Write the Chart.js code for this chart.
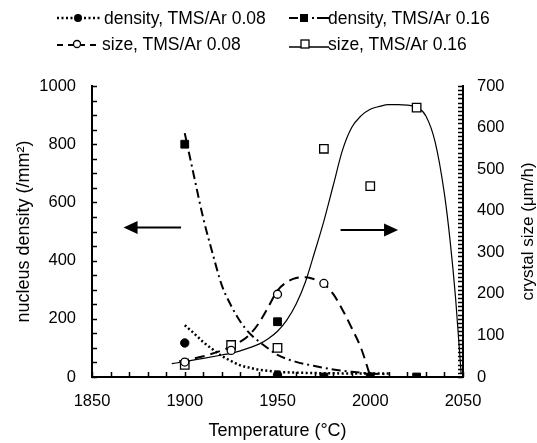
<!DOCTYPE html>
<html>
<head>
<meta charset="utf-8">
<script src="https://cdn.jsdelivr.net/npm/chart.js@4.4.1/dist/chart.umd.min.js"></script>
<style>
  body { margin: 0; background: #fff; }
  #wrap { position: relative; width: 537px; height: 443px; font-family: "Liberation Sans", Arial, sans-serif; }
  .item { position: absolute; height: 20px; font-size: 17.5px; line-height: 20px; color: #000; white-space: nowrap; }
  .item svg { position: absolute; top: 3px; }
  .item span { position: absolute; top: 0; }
</style>
</head>
<body>
<div id="wrap">
  <canvas id="chart" width="537" height="443"></canvas>
  <!-- legend, two columns x two rows -->
  <div class="item" style="left:57px;top:8px">
    <svg width="46" height="14" style="left:0">
      <line x1="0" y1="7" x2="44" y2="7" stroke="#000" stroke-width="2.5" stroke-dasharray="2 2.5"/>
      <circle cx="21" cy="7" r="4" fill="#000"/>
    </svg>
    <span style="left:47px">density, TMS/Ar 0.08</span>
  </div>
  <div class="item" style="left:289px;top:8px">
    <svg width="40" height="14" style="left:0">
      <line x1="0" y1="7" x2="9" y2="7" stroke="#000" stroke-width="2"/>
      <rect x="11" y="3" width="8" height="8" fill="#000"/>
      <line x1="23" y1="7" x2="25" y2="7" stroke="#000" stroke-width="2"/>
      <line x1="28" y1="7" x2="40" y2="7" stroke="#000" stroke-width="2"/>
    </svg>
    <span style="left:39px">density, TMS/Ar 0.16</span>
  </div>
  <div class="item" style="left:57px;top:34px">
    <svg width="42" height="14" style="left:0">
      <line x1="0" y1="8" x2="40" y2="8" stroke="#000" stroke-width="2" stroke-dasharray="6 5"/>
      <circle cx="20" cy="7" r="3.5" fill="#fff" stroke="#000" stroke-width="1.3"/>
    </svg>
    <span style="left:45px">size, TMS/Ar 0.08</span>
  </div>
  <div class="item" style="left:289px;top:34px">
    <svg width="40" height="14" style="left:0">
      <line x1="0" y1="10" x2="40" y2="10" stroke="#000" stroke-width="1.3"/>
      <rect x="12" y="3" width="8" height="8" fill="#fff" stroke="#000" stroke-width="1.3"/>
    </svg>
    <span style="left:39px">size, TMS/Ar 0.16</span>
  </div>
</div>
<script>
// measured points
const density08Temps = [1900, 1950];
const density08Values = [117, 7];
const density16Temps = [1900, 1950, 1975, 2000, 2025];
const density16Values = [800, 190, 0, 0, 0];
const size08Temps = [1900, 1925, 1950, 1975];
const size08Values = [36, 64, 199, 225];
const size16Temps = [1900, 1925, 1950, 1975, 2000, 2025];
const size16Values = [29, 77, 70, 549, 459, 648];

// fitted curves
const density08FitTemps = [1900, 1905, 1910, 1915, 1920, 1925, 1930, 1935, 1940, 1950, 1960, 1975, 2000, 2010];
const density08FitValues = [178, 150, 120, 95, 72, 55, 40, 32, 25, 18, 15, 13, 12, 12];
const density16FitTemps = [1900, 1905, 1910, 1915, 1920, 1925, 1930, 1935, 1940, 1945, 1950, 1960, 1970, 1980, 1990, 2000, 2010];
const density16FitValues = [838, 690, 545, 425, 315, 245, 190, 150, 122, 98, 76, 52, 38, 26, 18, 12, 9];
const size08FitTemps = [1897, 1900, 1910, 1920, 1930, 1935, 1940, 1945, 1950, 1955, 1960, 1965, 1970, 1975, 1980, 1985, 1990, 1995, 2000];
const size08FitValues = [38, 40, 50, 64, 85, 102, 130, 168, 208, 228, 238, 240, 235, 224, 200, 162, 118, 70, 2];
const size16FitTemps = [1893, 1900, 1910, 1920, 1925, 1930, 1940, 1945, 1950, 1955, 1960, 1965, 1970, 1975, 1980, 1985, 1990, 1995, 2000, 2005, 2010, 2015, 2020, 2025, 2030, 2035, 2040, 2043, 2046, 2049];
const size16FitValues = [32, 37, 45, 53, 57, 63, 79, 92, 110, 137, 175, 228, 300, 375, 460, 545, 600, 628, 644, 651, 655, 655, 654, 649, 628, 565, 440, 330, 190, 8];

// axis ticks
const tempTicks = [1850, 1900, 1950, 2000, 2050];
const densityTicks = [0, 200, 400, 600, 800, 1000];
const sizeTicks = [0, 100, 200, 300, 400, 500, 600, 700];
const tempMinorStep = 10;
const densityMinorStep = 50;
const sizeMinorStep = 10;

// the two arrows (left one points at the density axis, right one at the size axis)
const arrowFromTemps = [1898, 1984];
const arrowToTemps = [1867, 2015];
const arrowLevels = [514, 505];

Chart.defaults.font.family = '"Liberation Sans", Arial, sans-serif';
Chart.defaults.color = '#000';

function pts(xs, ys) {
    return xs.map((x, i) => ({ x: x, y: ys[i] }));
}

// plain numbers, no thousands separator
const plainLabel = (value) => String(value);

const fitStyle = {
    showLine: true,
    pointRadius: 0,
    borderColor: '#000',
    backgroundColor: '#000',
    cubicInterpolationMode: 'monotone',
    fill: false
};

const extras = {
    id: 'extras',
    afterDraw(chart) {
        const { ctx, chartArea: a, scales } = chart;
        ctx.save();
        ctx.strokeStyle = '#000';
        ctx.fillStyle = '#000';
        ctx.lineWidth = 1.5;

        // inward tick marks
        ctx.beginPath();
        for (let t = scales.x.min; t <= scales.x.max; t += tempMinorStep) {
            const px = Math.round(scales.x.getPixelForValue(t)) + 0.5;
            ctx.moveTo(px, a.bottom);
            ctx.lineTo(px, a.bottom - 5);
        }
        for (let v = scales.y.min; v <= scales.y.max; v += densityMinorStep) {
            const py = Math.round(scales.y.getPixelForValue(v)) + 0.5;
            ctx.moveTo(a.left, py);
            ctx.lineTo(a.left + 5, py);
        }
        for (let v = scales.y2.min; v <= scales.y2.max; v += sizeMinorStep) {
            const py = Math.round(scales.y2.getPixelForValue(v)) + 0.5;
            ctx.moveTo(a.right, py);
            ctx.lineTo(a.right - 5, py);
        }
        ctx.stroke();

        // arrows
        ctx.lineWidth = 2;
        arrowFromTemps.forEach((t0, i) => {
            const x0 = scales.x.getPixelForValue(t0);
            const x1 = scales.x.getPixelForValue(arrowToTemps[i]);
            const y = scales.y.getPixelForValue(arrowLevels[i]);
            const dir = Math.sign(x1 - x0);
            ctx.beginPath();
            ctx.moveTo(x0, y);
            ctx.lineTo(x1 - dir * 12, y);
            ctx.stroke();
            ctx.beginPath();
            ctx.moveTo(x1, y);
            ctx.lineTo(x1 - dir * 14, y - 6.5);
            ctx.lineTo(x1 - dir * 14, y + 6.5);
            ctx.closePath();
            ctx.fill();
        });

        // right axis title, reads bottom to top
        ctx.font = '17px "Liberation Sans", Arial, sans-serif';
        ctx.textAlign = 'center';
        ctx.textBaseline = 'middle';
        ctx.translate(528, (a.top + a.bottom) / 2);
        ctx.rotate(-Math.PI / 2);
        ctx.fillText('crystal size (μm/h)', 0, 0);
        ctx.restore();
    }
};

new Chart(document.getElementById('chart'), {
    type: 'scatter',
    data: {
        datasets: [
            // point series first so they sit on top
            {
                label: 'density, TMS/Ar 0.08',
                data: pts(density08Temps, density08Values),
                yAxisID: 'y',
                pointStyle: 'circle',
                pointRadius: 4.2,
                backgroundColor: '#000',
                borderColor: '#000'
            },
            {
                label: 'density, TMS/Ar 0.16',
                data: pts(density16Temps, density16Values),
                yAxisID: 'y',
                pointStyle: 'rect',
                pointRadius: 5.5,
                backgroundColor: '#000',
                borderColor: '#000'
            },
            {
                label: 'size, TMS/Ar 0.08',
                data: pts(size08Temps, size08Values),
                yAxisID: 'y2',
                pointStyle: 'circle',
                pointRadius: 4,
                borderWidth: 1.3,
                backgroundColor: '#fff',
                borderColor: '#000'
            },
            {
                label: 'size, TMS/Ar 0.16',
                data: pts(size16Temps, size16Values),
                yAxisID: 'y2',
                pointStyle: 'rect',
                pointRadius: 6,
                borderWidth: 1.3,
                backgroundColor: '#fff',
                borderColor: '#000'
            },
            Object.assign({}, fitStyle, {
                label: 'density 0.08 fit',
                data: pts(density08FitTemps, density08FitValues),
                yAxisID: 'y',
                borderWidth: 2.5,
                borderDash: [2, 2.5]
            }),
            Object.assign({}, fitStyle, {
                label: 'density 0.16 fit',
                data: pts(density16FitTemps, density16FitValues),
                yAxisID: 'y',
                borderWidth: 2,
                borderDash: [9, 4, 2, 4]
            }),
            Object.assign({}, fitStyle, {
                label: 'size 0.08 fit',
                data: pts(size08FitTemps, size08FitValues),
                yAxisID: 'y2',
                borderWidth: 2,
                borderDash: [10, 6]
            }),
            Object.assign({}, fitStyle, {
                label: 'size 0.16 fit',
                data: pts(size16FitTemps, size16FitValues),
                yAxisID: 'y2',
                borderWidth: 1.2
            })
        ]
    },
    options: {
        responsive: false,
        animation: false,
        layout: {
            padding: { top: 86, left: 0, right: 0, bottom: 0 }
        },
        plugins: {
            legend: { display: false },
            tooltip: { enabled: false }
        },
        scales: {
            x: {
                type: 'linear',
                min: 1850,
                max: 2050,
                afterBuildTicks: (scale) => { scale.ticks = tempTicks.map(v => ({ value: v })); },
                afterFit: (scale) => { scale.height = 66; },
                grid: { display: false, drawTicks: false },
                border: { display: true, color: '#000', width: 2 },
                ticks: { padding: 15, font: { size: 16.5 }, maxRotation: 0, callback: plainLabel },
                title: {
                    display: true,
                    text: 'Temperature (°C)',
                    font: { size: 18 },
                    padding: { top: 0, bottom: 1 }
                }
            },
            y: {
                position: 'left',
                min: 0,
                max: 1000,
                afterBuildTicks: (scale) => { scale.ticks = densityTicks.map(v => ({ value: v })); },
                afterFit: (scale) => { scale.width = 92; },
                grid: { display: false, drawTicks: false },
                border: { display: true, color: '#000', width: 2 },
                ticks: { padding: 16, font: { size: 16.5 }, callback: plainLabel },
                title: {
                    display: true,
                    text: 'nucleus density (/mm²)',
                    font: { size: 18 },
                    padding: { top: 13, bottom: 0 }
                }
            },
            y2: {
                position: 'right',
                min: 0,
                max: 700,
                afterBuildTicks: (scale) => { scale.ticks = sizeTicks.map(v => ({ value: v })); },
                afterFit: (scale) => { scale.width = 74; },
                grid: { display: false, drawTicks: false },
                border: { display: true, color: '#000', width: 2 },
                ticks: { padding: 14, font: { size: 16.5 }, callback: plainLabel }
            }
        }
    },
    plugins: [extras]
});
</script>
</body>
</html>
